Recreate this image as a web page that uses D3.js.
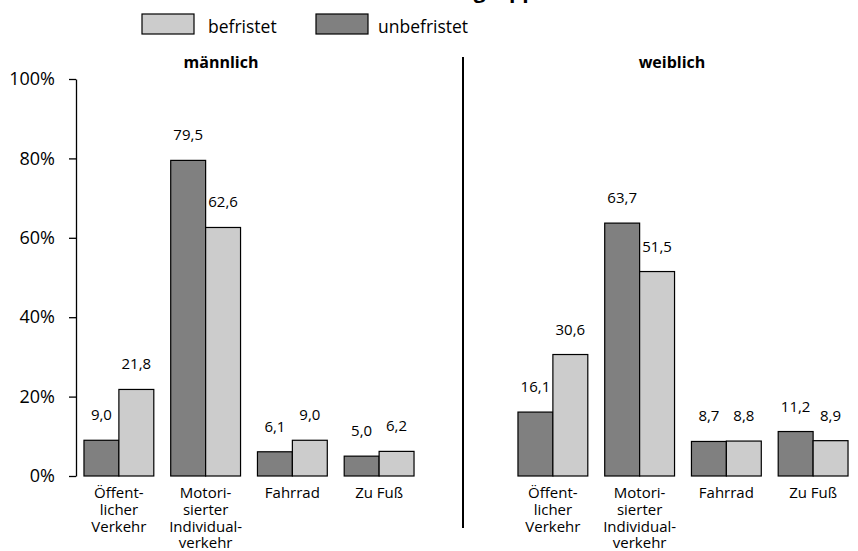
<!DOCTYPE html>
<html>
<head>
<meta charset="utf-8">
<script src="https://cdn.jsdelivr.net/npm/d3@7/dist/d3.min.js"></script>
<style>
  html, body { margin: 0; padding: 0; background: #fff; }
  svg { display: block; font-family: "Open Sans", "Noto Sans", sans-serif; }
</style>
</head>
<body>
<svg id="chart" width="858" height="551"></svg>
<script>
// ---- data ----
const categories = ["Öffentlicher Verkehr", "Motorisierter Individualverkehr", "Fahrrad", "Zu Fuß"];
const categoryLines = [["Öffent-", "licher", "Verkehr"], ["Motori-", "sierter", "Individual-", "verkehr"], ["Fahrrad"], ["Zu Fuß"]];
const seriesNames = ["unbefristet", "befristet"];
const legendOrder = ["befristet", "unbefristet"];
const panels = ["männlich", "weiblich"];
const maleUnbefristet = [9.0, 79.5, 6.1, 5.0];
const maleBefristet = [21.8, 62.6, 9.0, 6.2];
const femaleUnbefristet = [16.1, 63.7, 8.7, 11.2];
const femaleBefristet = [30.6, 51.5, 8.8, 8.9];
const yTicks = [0, 20, 40, 60, 80, 100];
const titleText = "Verkehrsmittelwahl nach Personengruppe";

const colors = { "unbefristet": "#808080", "befristet": "#cccccc" };
const panelData = {
  "männlich": { "unbefristet": maleUnbefristet, "befristet": maleBefristet },
  "weiblich": { "unbefristet": femaleUnbefristet, "befristet": femaleBefristet }
};

const svg = d3.select("#chart");
const de = d3.formatLocale({ decimal: ",", thousands: ".", grouping: [3], currency: ["", " €"] });
const fmt = de.format(".1f");

// title, cut off at the very top as in the reference
svg.append("text")
  .attr("x", 548).attr("y", -2)
  .attr("text-anchor", "end")
  .attr("font-weight", "bold").attr("font-size", 21)
  .text(titleText);

// y scale
const y = d3.scaleLinear().domain([0, 100]).range([476, 79]);

// y axis
const yAxis = d3.axisLeft(y).tickValues(yTicks).tickSize(7).tickSizeOuter(0)
  .tickPadding(14).tickFormat(d => d + "%");
const ya = svg.append("g").attr("transform", "translate(76,0)").call(yAxis);
ya.attr("font-family", null).attr("font-size", null);
ya.selectAll("text").attr("font-size", 18).attr("fill", "#000");
ya.selectAll("line").attr("stroke", "#000").attr("stroke-width", 1.3);
ya.select(".domain").attr("stroke", "#000").attr("stroke-width", 1.3);

// panels
const panelRanges = { "männlich": [75.5, 422.5], "weiblich": [509.5, 856.5] };
const panelTitleX = { "männlich": 221, "weiblich": 672 };

panels.forEach(p => {
  const x0 = d3.scaleBand().domain(categories).range(panelRanges[p])
    .paddingInner(0.195).paddingOuter(0.0977);
  const x1 = d3.scaleBand().domain(seriesNames).range([0, x0.bandwidth()]).padding(0);
  const g = svg.append("g");

  g.append("text")
    .attr("x", panelTitleX[p]).attr("y", 68)
    .attr("text-anchor", "middle")
    .attr("font-weight", "bold").attr("font-size", 16)
    .text(p);

  categories.forEach((c, i) => {
    const cg = g.append("g").attr("transform", `translate(${x0(c)},0)`);
    seriesNames.forEach(s => {
      const v = panelData[p][s][i];
      cg.append("rect")
        .attr("x", x1(s)).attr("y", y(v))
        .attr("width", x1.bandwidth()).attr("height", y(0) - y(v))
        .attr("fill", colors[s]).attr("stroke", "#000").attr("stroke-width", 1.2);
      cg.append("text")
        .attr("x", x1(s) + x1.bandwidth() / 2).attr("y", y(v) - 20)
        .attr("text-anchor", "middle").attr("font-size", 15)
        .text(fmt(v));
    });
    const t = g.append("text")
      .attr("x", x0(c) + x0.bandwidth() / 2).attr("y", 498)
      .attr("text-anchor", "middle").attr("font-size", 15);
    categoryLines[i].forEach((ln, k) => {
      t.append("tspan").attr("x", x0(c) + x0.bandwidth() / 2)
        .attr("dy", k === 0 ? 0 : 16.8).text(ln);
    });
  });
});

// divider
svg.append("line").attr("x1", 463).attr("x2", 463).attr("y1", 57).attr("y2", 528)
  .attr("stroke", "#000").attr("stroke-width", 2);

// legend
const legendBoxX = { "befristet": 142, "unbefristet": 316 };
const legendTextX = { "befristet": 208, "unbefristet": 378 };
legendOrder.forEach(s => {
  svg.append("rect").attr("x", legendBoxX[s]).attr("y", 14).attr("width", 52).attr("height", 20)
    .attr("fill", colors[s]).attr("stroke", "#000").attr("stroke-width", 1.2);
  svg.append("text").attr("x", legendTextX[s]).attr("y", 33)
    .attr("font-size", 17.5).text(s);
});
</script>
</body>
</html>
